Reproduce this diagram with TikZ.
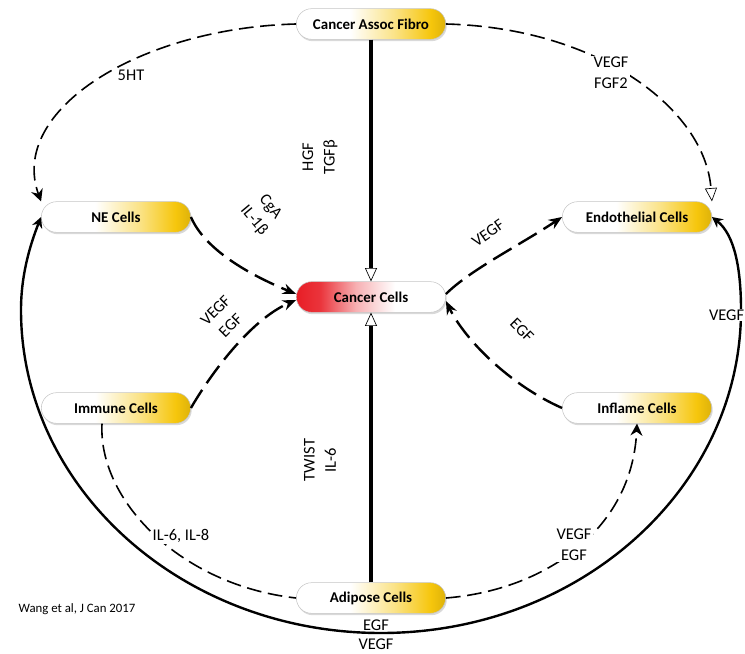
\documentclass[tikz,border=0pt]{standalone}
\usepackage{fontspec}
\setmainfont{Carlito}
\usetikzlibrary{arrows.meta,shadows,calc}

\definecolor{pillgold}{RGB}{246,198,12}
\definecolor{cred}{RGB}{232,30,38}

% white-to-gold and red-to-white fills for the cell pills
\pgfdeclarehorizontalshading{pillshade}{100bp}{color(0bp)=(white); color(25bp)=(white); color(43bp)=(white); color(58bp)=(pillgold!50); color(70bp)=(pillgold); color(75bp)=(pillgold!90!black); color(100bp)=(pillgold!90!black)}
\pgfdeclarehorizontalshading{cancershade}{100bp}{color(0bp)=(cred); color(25bp)=(cred); color(33bp)=(cred!90); color(45bp)=(cred!35); color(58bp)=(white); color(75bp)=(white); color(100bp)=(white)}

\tikzset{
  cell/.style={rectangle, rounded corners=11.5pt, minimum width=112pt, minimum height=23pt,
    draw=gray!45, line width=0.4pt, shade, shading=pillshade,
    font=\bfseries\fontsize{11.2}{13}\selectfont,
    drop shadow={opacity=0.3, shadow xshift=0.8pt, shadow yshift=-1.4pt}},
  tumour/.style={cell, shading=cancershade},
  lbl/.style={font=\fontsize{12.3}{16}\selectfont, align=center, inner sep=1pt},
  knock/.style={lbl, fill=white},
  spoke/.style={line width=1.8pt, dash pattern=on 16pt off 6pt, -{Stealth[length=10pt,width=8pt]}},
  axisline/.style={line width=2.6pt, -{Triangle[length=10pt,width=9pt,fill=white,line width=0.5pt]}},
  longdash/.style={line width=1.2pt, dash pattern=on 11pt off 5pt},
  ring/.style={line width=1.8pt, {Stealth[length=8pt,width=8pt]}-{Stealth[length=8pt,width=8pt]}},
}

\begin{document}
\begin{tikzpicture}[x=0.75pt,y=-0.75pt]
\useasboundingbox (0,0) rectangle (745,653);

% cells
\node[cell]   (fibro)   at (371,24)  {Cancer Assoc Fibro};
\node[cell]   (ne)      at (116,217) {NE Cells};
\node[cell]   (endo)    at (637,217) {Endothelial Cells};
\node[tumour] (cancer)  at (371,297) {Cancer Cells};
\node[cell]   (immune)  at (116,408) {Immune Cells};
\node[cell]   (inflame) at (637,408) {Inflame Cells};
\node[cell]   (adipose) at (371,598) {Adipose Cells};

% outer ring from NE cells round the bottom to endothelial cells
\draw[ring] (ne.west) .. controls (30,245) and (21,275) .. (21,310)
  .. controls (21,488) and (182,633) .. (381,633)
  .. controls (580,633) and (741,488) .. (741,310)
  .. controls (741,270) and (735,235) .. (endo.east);

% long dashed links
\draw[longdash, -{Stealth[length=9pt,width=9pt]}] (fibro.west) .. controls (140,28) and (8,110) .. (ne.north west);
\draw[longdash, -{Triangle[length=10pt,width=9pt,fill=white,line width=0.5pt]}] (fibro.east) .. controls (600,28) and (705,110) .. (endo.north east);
\draw[longdash] ($(immune.south)+(-14,0)$) .. controls (98,500) and (180,585) .. (adipose.west);
\draw[longdash, -{Stealth[length=9pt,width=9pt]}] (adipose.east) .. controls (545,590) and (632,530) .. (inflame.south);

% vertical axis
\draw[axisline] (fibro.south) -- (cancer.north);
\draw[axisline] (adipose.north) -- (cancer.south);

% spokes into and out of the cancer cells
\draw[spoke] (ne.east) .. controls (205,250) and (250,275) .. ($(cancer.west)+(0,-3)$);
\draw[spoke] (immune.east) .. controls (210,375) and (250,320) .. ($(cancer.west)+(0,3)$);
\draw[spoke] ($(cancer.east)+(0,-3)$) .. controls (470,270) and (520,245) .. (endo.west);
\draw[spoke] (inflame.west) .. controls (510,385) and (465,340) .. ($(cancer.east)+(0,4)$);

% signal labels
\node[knock] (l5ht) at (131,75) {5HT};
\node[knock] (lvf) at (611,73) {VEGF\\FGF2};
\node[lbl, rotate=90] (lhgf) at (320,157) {HGF\\TGFβ};
\node[lbl, rotate=90] (ltwist) at (320,460) {TWIST\\IL-6};
\node[lbl, rotate=-50] (lcga) at (262,214) {CgA\\IL-1β};
\node[lbl, rotate=45] (lvegfegf) at (223,318) {VEGF\\EGF};
\node[lbl, rotate=35] (lvegf) at (488,233) {VEGF};
\node[lbl, rotate=-45] (legf) at (522,330) {EGF};
\node[knock] (lil) at (181,536) {IL-6, IL-8};
\node[knock] (lve2) at (574,545) {VEGF\\EGF};
\node[lbl] (lbegf) at (376,625) {EGF};
\node[lbl] (lbvegf) at (376,644) {VEGF};
\node[knock, inner sep=0.5pt, anchor=east] (lrvegf) at (745,315) {VEGF};
\node[lbl, font=\fontsize{9.6}{11}\selectfont] (cite) at (77,609) {Wang et al, J Can 2017};
\end{tikzpicture}
\end{document}
